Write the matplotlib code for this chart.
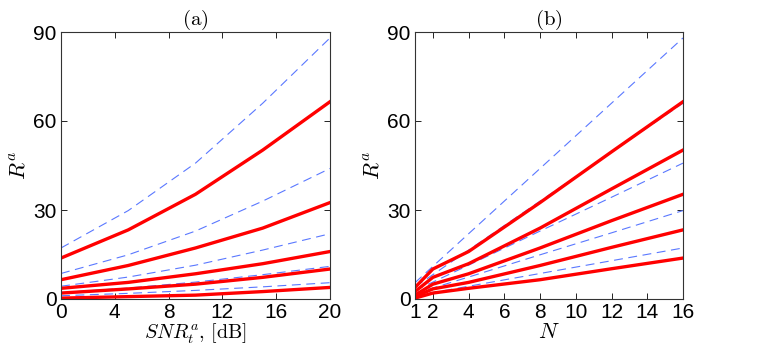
import numpy as np
import matplotlib
matplotlib.use("Agg")
import matplotlib.pyplot as plt

plt.rcParams['mathtext.fontset'] = 'cm'
plt.rcParams['font.family'] = ['Liberation Sans', 'DejaVu Sans']

# rows: N, columns: SNR in dB
N = [1, 2, 4, 8, 12, 16]
snr = [0, 5, 10, 15, 20]

# achievable rate (red)
R = [[0.3, 0.8, 1.3, 2.5, 3.9],
     [2.0, 3.4, 5.0, 7.3, 10.1],
     [3.6, 5.6, 8.5, 11.9, 16.0],
     [6.5, 11.3, 17.2, 23.9, 32.5],
     [10.2, 17.4, 26.4, 37.1, 49.6],
     [13.8, 23.3, 35.3, 50.2, 66.5]]

# bound (blue dashed)
Rb = [[1.1, 1.9, 2.9, 4.1, 5.5],
      [2.15, 3.7, 5.7, 8.2, 11.0],
      [4.3, 7.4, 11.4, 16.5, 22.0],
      [8.6, 14.9, 22.9, 33.0, 44.0],
      [12.9, 22.3, 34.3, 49.5, 66.0],
      [17.2, 29.8, 45.8, 66.0, 88.0]]

N_left = [1, 2, 4, 8, 16]

R = np.array(R)
Rb = np.array(Rb)

red = '#ff0000'
blue = '#5a78ff'

fig = plt.figure(figsize=(7.59, 3.53), dpi=100)
ax1 = fig.add_axes([61/759, 54/353, 269/759, 267/353])
ax2 = fig.add_axes([415/759, 54/353, 268/759, 267/353])

for n in N_left:
    i = N.index(n)
    ax1.plot(snr, Rb[i], c=blue, lw=0.8, dashes=(8, 5))
    ax1.plot(snr, R[i], c=red, lw=2.4)

for j in range(len(snr)):
    ax2.plot(N, Rb[:, j], c=blue, lw=0.8, dashes=(8, 5))
    ax2.plot(N, R[:, j], c=red, lw=2.4)

ax1.set_xlim(0, 20)
ax1.set_xticks([0, 4, 8, 12, 16, 20])
ax2.set_xlim(1, 16)
ax2.set_xticks([1, 2, 4, 6, 8, 10, 12, 14, 16])

for ax in (ax1, ax2):
    ax.set_ylim(0, 90)
    ax.set_yticks([0, 30, 60, 90])
    ax.tick_params(direction='in', top=True, right=True, labelsize=15,
                   length=4, width=0.6, pad=3)
    for s in ax.spines.values():
        s.set_linewidth(0.8)
        s.set_color('#333333')
    ax.set_ylabel(r'$R^a$', fontsize=16, labelpad=2)

ax1.set_title(r'$\mathrm{(a)}$', fontsize=15, pad=5)
ax2.set_title(r'$\mathrm{(b)}$', fontsize=15, pad=5)
ax1.set_xlabel(r'$SNR_t^a,\,[\mathrm{dB}]$', fontsize=14.5, labelpad=0)
ax2.set_xlabel(r'$N$', fontsize=16, labelpad=0)

fig.savefig('out.png', dpi=100)
